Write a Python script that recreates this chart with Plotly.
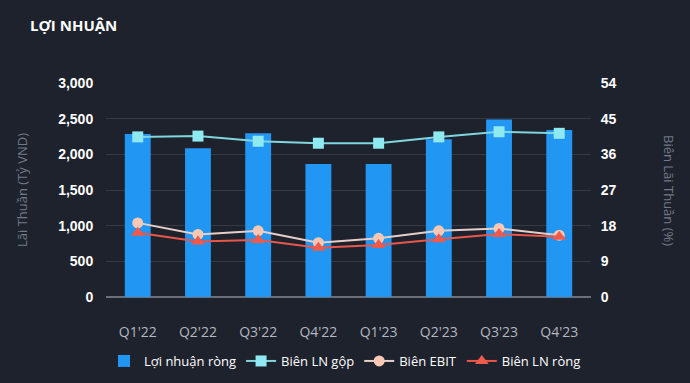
import plotly.graph_objects as go

categories = ["Q1'22", "Q2'22", "Q3'22", "Q4'22", "Q1'23", "Q2'23", "Q3'23", "Q4'23"]
loi_nhuan_rong = [2285, 2085, 2295, 1865, 1865, 2210, 2490, 2340]
bien_ln_gop = [40.4, 40.6, 39.3, 38.8, 38.8, 40.4, 41.7, 41.3]
bien_ebit = [18.7, 15.8, 16.7, 13.7, 14.8, 16.7, 17.3, 15.6]
bien_ln_rong = [16.2, 14.0, 14.4, 12.4, 13.1, 14.6, 15.9, 15.2]
left_ticks = [0, 500, 1000, 1500, 2000, 2500, 3000]
right_ticks = [0, 9, 18, 27, 36, 45, 54]

BG = "#1e222d"
FONT = "Open Sans"

fig = go.Figure()
fig.add_trace(go.Bar(x=categories, y=loi_nhuan_rong, name="Lợi nhuận ròng",
                     marker=dict(color="#2196f3", line=dict(width=0)), yaxis="y"))
fig.add_trace(go.Scatter(x=categories, y=bien_ln_gop, name="Biên LN gộp", mode="lines+markers",
                         line=dict(color="#7fd6dd", width=2),
                         marker=dict(symbol="square", size=11, color="#8fe9f1"), yaxis="y2"))
fig.add_trace(go.Scatter(x=categories, y=bien_ebit, name="Biên EBIT", mode="lines+markers",
                         line=dict(color="#e6cfc8", width=2),
                         marker=dict(symbol="circle", size=11, color="#f8c8b4"), yaxis="y2"))
fig.add_trace(go.Scatter(x=categories, y=bien_ln_rong, name="Biên LN ròng", mode="lines+markers",
                         line=dict(color="#e8574a", width=2),
                         marker=dict(symbol="triangle-up", size=12, color="#ef5a4c"), yaxis="y2"))

fig.update_layout(
    width=690, height=383,
    paper_bgcolor=BG, plot_bgcolor=BG,
    margin=dict(l=106, r=99, t=83, b=86, autoexpand=False),
    font=dict(family=FONT, color="#ffffff"),
    bargap=0.57,
    showlegend=True,
    legend=dict(orientation="h", xref="container", yref="container",
                x=0.5, xanchor="center", y=22 / 383, yanchor="middle",
                font=dict(size=13, color="#ffffff"), bgcolor="rgba(0,0,0,0)",
                itemwidth=30, tracegroupgap=0),
    xaxis=dict(showgrid=False, zeroline=False, showline=False,
               ticks="outside", ticklen=22, tickcolor="rgba(0,0,0,0)",
               tickfont=dict(size=14, color="#b3b7bf", family=FONT)),
    yaxis=dict(range=[0, 3000], tickvals=left_ticks, tickformat=",",
               showgrid=True, gridcolor="#353945", gridwidth=1,
               zeroline=True, zerolinecolor="#6b6f78", zerolinewidth=1.5,
               showline=False, ticks="outside", ticklen=9, tickcolor="rgba(0,0,0,0)",
               tickfont=dict(size=14, color="#ffffff", family="Liberation Sans", weight="bold")),
    yaxis2=dict(range=[0, 54], tickvals=right_ticks, overlaying="y", side="right",
                showgrid=False, zeroline=False, showline=False,
                ticks="outside", ticklen=6, tickcolor="rgba(0,0,0,0)",
                tickfont=dict(size=14, color="#ffffff", family="Liberation Sans", weight="bold")),
)

# pixel-positioned annotations converted into paper coordinates
L, R, T, B, W, H = 106, 99, 83, 86, 690, 383
pw = W - L - R
ph = H - T - B


def px(x, y):
    return (x - L) / pw, (H - B - y) / ph


ann_specs = [
    ("<b>LỢI NHUẬN</b>", 28, 25, 0, "left", dict(size=15, color="#ffffff", family=FONT)),
    ("Lãi Thuần (Tỷ VND)", 22, 190, -90, "center", dict(size=13, color="#737988", family=FONT)),
    ("Biên Lãi Thuần (%)", 669, 190, 90, "center", dict(size=13, color="#737988", family=FONT)),
]
for text, x, y, ang, xa, f in ann_specs:
    ax, ay = px(x, y)
    fig.add_annotation(text=text, x=ax, y=ay, xref="paper", yref="paper", showarrow=False,
                       textangle=ang, xanchor=xa, yanchor="middle", font=f)

fig.write_html("out.html", config={"displayModeBar": False},
               post_script="document.body.style.margin='0';document.body.style.background='#1e222d';")
